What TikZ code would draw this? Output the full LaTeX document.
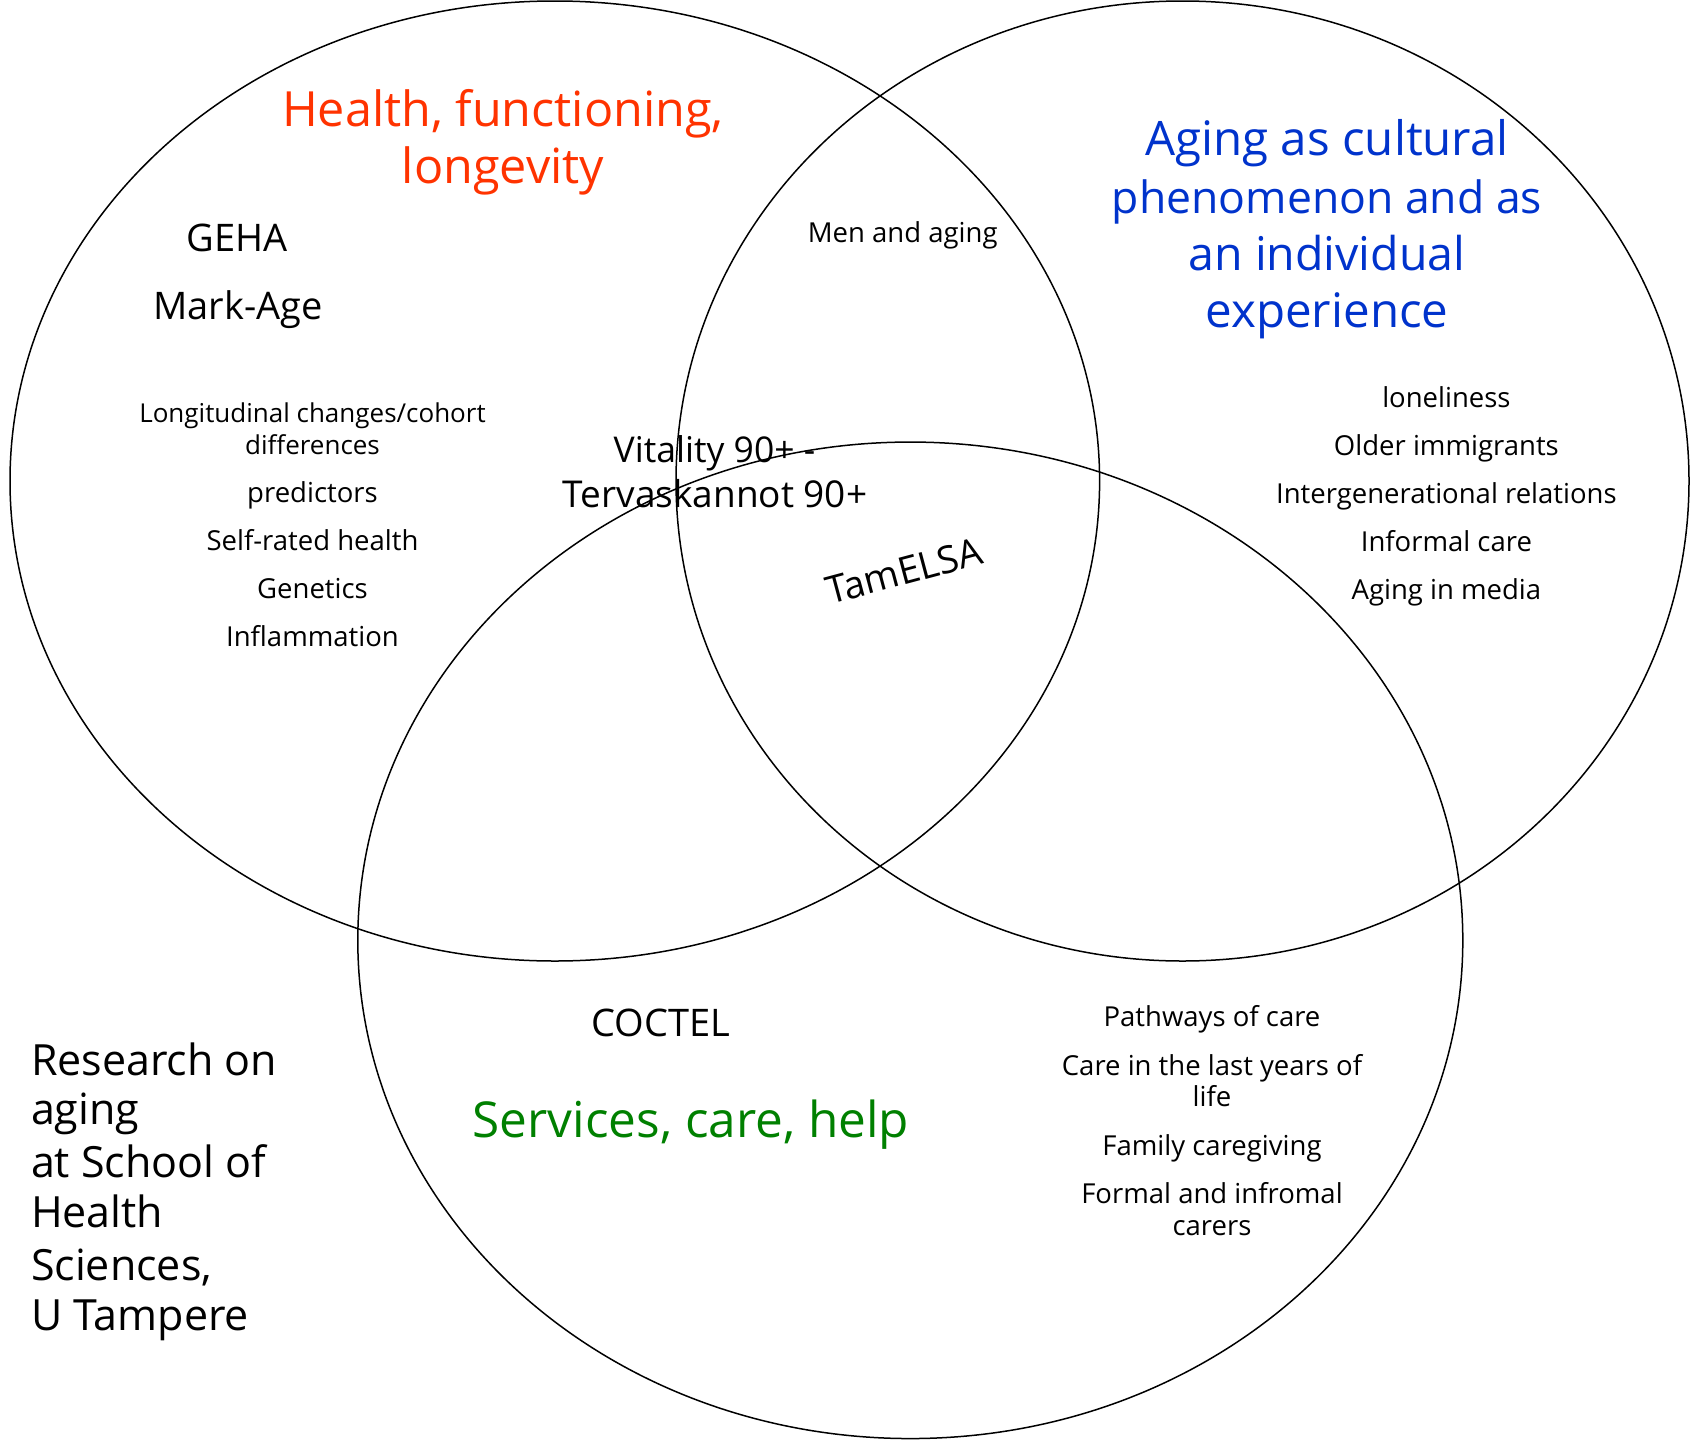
\documentclass[tikz,border=0pt]{standalone}
\usepackage{fontspec}
\setmainfont{Open Sans}
\usetikzlibrary{shapes.geometric}
\definecolor{healthred}{HTML}{FF3300}
\definecolor{cultureblue}{HTML}{0033CC}
\definecolor{caregreen}{HTML}{008000}
\tikzset{
  area/.style={ellipse, draw=black, line width=1.5pt, inner sep=0pt},
  lbl/.style={anchor=base, inner sep=0pt},
  fs/.style={font=\fontsize{#1}{#1}\selectfont},
  big/.style={fs=48},
  mid/.style={fs=38},
  small/.style={fs=27.5},
  side/.style={fs=43, anchor=base west},
}
\begin{document}
\begin{tikzpicture}[x=1pt,y=-1pt]
\fill[white] (0,0) rectangle (1692,1440);
\useasboundingbox (0,0) rectangle (1692,1440);

% the three research areas
\node[area, minimum width=1089.6pt, minimum height=960pt] (health) at (554.8,481) {};
\node[area, minimum width=1013pt, minimum height=960pt] (culture) at (1182.5,481) {};
\node[area, minimum width=1105pt, minimum height=996.5pt] (care) at (910.3,940.3) {};

% health, functioning, longevity
\node[lbl, big, fs=48.5, text=healthred] (h1) at (503,126.3) {Health, functioning,};
\node[lbl, big, fs=48.5, text=healthred] (h2) at (503,183.7) {longevity};
\node[lbl, mid] (geha) at (237,251.6) {GEHA};
\node[lbl, mid] (markage) at (238,319) {Mark-Age};
\node[lbl, small, fs=26] (long1) at (312.5,422.4) {Longitudinal changes/cohort};
\node[lbl, small, fs=26] (long2) at (312.5,454.5) {differences};
\node[lbl, small] (pred) at (312.5,502.5) {predictors};
\node[lbl, small] (srh) at (312.5,550) {Self-rated health};
\node[lbl, small] (gen) at (312.5,598) {Genetics};
\node[lbl, small] (infl) at (312.5,646.5) {Inflammation};

% overlaps
\node[lbl, small] (men) at (902.7,242) {Men and aging};
\node[lbl, mid, fs=35.5] (vit1) at (714.5,462.8) {Vitality 90+ -};
\node[lbl, mid, fs=37] (vit2) at (715,507) {Tervaskannot 90+};
\node[mid, rotate=15, inner sep=0pt] (tamelsa) at (904,571) {TamELSA};

% aging as cultural phenomenon
\node[lbl, big, fs=47.5, text=cultureblue] (c1) at (1327,155) {Aging as cultural};
\node[lbl, big, fs=44.5, text=cultureblue] (c2) at (1327,213.5) {phenomenon and as};
\node[lbl, big, fs=46.5, text=cultureblue] (c3) at (1327,270) {an individual};
\node[lbl, big, fs=47.5, text=cultureblue] (c4) at (1327,327) {experience};
\node[lbl, small] (lone) at (1446.4,407) {loneliness};
\node[lbl, small] (immig) at (1446.4,455.5) {Older immigrants};
\node[lbl, small] (interg) at (1446.4,503.7) {Intergenerational relations};
\node[lbl, small] (infc) at (1446.4,551) {Informal care};
\node[lbl, small] (media) at (1446.4,599) {Aging in media};

% services, care, help
\node[lbl, mid] (coctel) at (661,1036.8) {COCTEL};
\node[lbl, big, fs=49.5, text=caregreen] (s1) at (691,1137) {Services, care, help};
\node[lbl, small] (path) at (1212,1026.7) {Pathways of care};
\node[lbl, small] (last1) at (1212,1075) {Care in the last years of};
\node[lbl, small] (last2) at (1212,1106.6) {life};
\node[lbl, small] (fam) at (1212,1155) {Family caregiving};
\node[lbl, small] (form1) at (1212,1203.5) {Formal and infromal};
\node[lbl, small] (form2) at (1212,1235) {carers};

% title block
\node[lbl, side] (r1) at (30.8,1075) {Research on};
\node[lbl, side] (r2) at (30.8,1124) {aging};
\node[lbl, side] (r3) at (30.8,1177) {at School of};
\node[lbl, side] (r4) at (30.8,1227) {Health};
\node[lbl, side] (r5) at (30.8,1280) {Sciences,};
\node[lbl, side] (r6) at (30.8,1330.6) {U Tampere};
\end{tikzpicture}
\end{document}
